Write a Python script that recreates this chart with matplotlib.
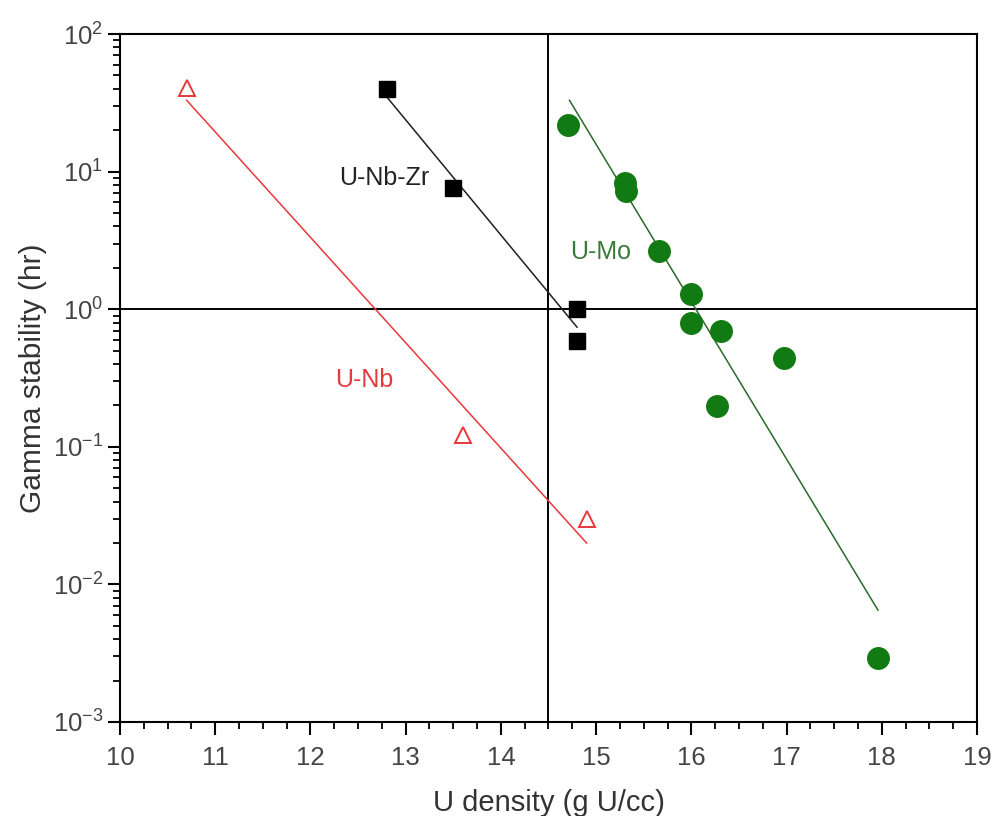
import numpy as np
import matplotlib
matplotlib.use('Agg')
import matplotlib.pyplot as plt
from matplotlib.ticker import MultipleLocator, LogLocator, NullFormatter

plt.rcParams['font.family'] = ['Liberation Sans', 'DejaVu Sans']
plt.rcParams['mathtext.fontset'] = 'custom'
plt.rcParams['mathtext.rm'] = 'Liberation Sans'
plt.rcParams['mathtext.it'] = 'Liberation Sans'

# U-Nb (open red triangles)
unb_x = [10.7, 13.6, 14.9]
unb_y = [40.5, 0.121, 0.030]
unb_fit_x = [10.7, 14.9]
unb_fit_y = [33, 0.020]

# U-Nb-Zr (black squares)
unbzr_x = [12.8, 13.5, 14.8, 14.8]
unbzr_y = [40, 7.6, 1.0, 0.585]
unbzr_fit_x = [12.8, 14.8]
unbzr_fit_y = [35, 0.74]

# U-Mo (green circles)
umo_x = [14.71, 15.3, 15.31, 15.66, 16.0, 16.0, 16.31, 16.97, 16.27, 17.96]
umo_y = [22, 8.2, 7.2, 2.65, 1.29, 0.80, 0.70, 0.445, 0.198, 0.0029]
umo_fit_x = [14.72, 17.96]
umo_fit_y = [33, 0.0065]

red = '#e8383d'
green = '#127a12'

fig = plt.figure(figsize=(9.95, 8.16), dpi=100)
ax = fig.add_axes([0.1206, 0.1152, 0.8613, 0.8431])

ax.axvline(14.5, color='black', lw=1.4, zorder=1)
ax.axhline(1.0, color='black', lw=1.4, zorder=1)

ax.plot(unb_fit_x, unb_fit_y, '-', color=red, lw=1.1)
ax.plot(unb_x, unb_y, '^', mfc='white', mec=red, mew=1.4, ms=12, ls='none')

ax.plot(unbzr_fit_x, unbzr_fit_y, '-', color='#202020', lw=1.1)
ax.plot(unbzr_x, unbzr_y, 's', color='black', ms=12, ls='none')

ax.plot(umo_fit_x, umo_fit_y, '-', color='#2a6a2a', lw=1.1)
ax.plot(umo_x, umo_y, 'o', color=green, ms=15.5, ls='none')

ax.text(12.78, 9.0, 'U-Nb-Zr', fontsize=18, color='#222222', ha='center', va='center')
ax.text(15.05, 2.6, 'U-Mo', fontsize=18, color='#3a7a3a', ha='center', va='center')
ax.text(12.56, 0.305, 'U-Nb', fontsize=18, color=red, ha='center', va='center')

ax.set_yscale('log')
ax.set_xlim(10, 19)
ax.set_ylim(1e-3, 1e2)

ax.xaxis.set_major_locator(MultipleLocator(1))
ax.xaxis.set_minor_locator(MultipleLocator(0.25))
ax.yaxis.set_major_locator(LogLocator(base=10, numticks=10))
ax.yaxis.set_minor_locator(LogLocator(base=10, subs=np.arange(2, 10), numticks=10))
ax.yaxis.set_minor_formatter(NullFormatter())

ax.tick_params(which='major', direction='out', length=9, width=1.5, labelsize=18.5, colors='black')
ax.tick_params(which='minor', direction='out', length=5, width=1.3)
ax.tick_params(axis='x', which='major', pad=8)
ax.tick_params(axis='y', which='major', pad=3)
ax.tick_params(axis='both', labelcolor='#444444')
ax.tick_params(top=False, right=False, which='both')
for s in ax.spines.values():
    s.set_linewidth(1.5)

ax.set_xlabel('U density (g U/cc)', fontsize=21, color='#333333', labelpad=14)
ax.set_ylabel('Gamma stability (hr)', fontsize=21.5, color='#333333', labelpad=4)

fig.savefig('out.png', dpi=100)
